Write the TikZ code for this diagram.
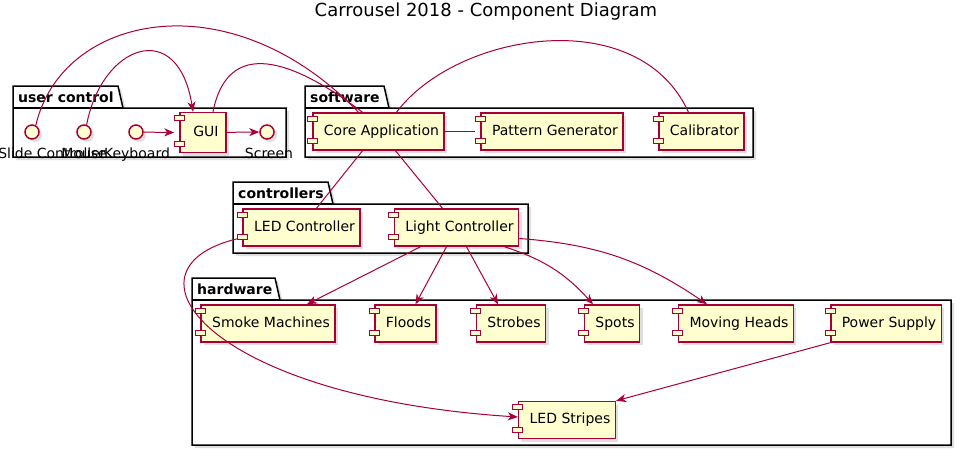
\documentclass[tikz,border=0pt]{standalone}
\usepackage{fontspec}
\setmainfont{DejaVu Sans}
\usepackage{xcolor}
\usetikzlibrary{arrows.meta, positioning, calc, shadows}
\definecolor{umlred}{HTML}{A80036}
\definecolor{umlfill}{HTML}{FEFECE}

\begin{document}
\begin{tikzpicture}[
    x=1pt, y=-1pt,
    font=\fontsize{14}{16}\selectfont,
    comp/.style={draw=umlred, line width=1.5pt, fill=umlfill, minimum height=37pt,
                 inner xsep=5pt, text height=10pt, text depth=3pt,
                 execute at begin node={\hspace*{6pt}},
                 drop shadow={shadow xshift=3pt, shadow yshift=-3pt, opacity=.25}},
    port/.style={draw=umlred, line width=1pt, fill=umlfill},
    iface/.style 2 args={circle, draw=umlred, line width=1.5pt, fill=umlfill, minimum size=14pt,
                  inner sep=0pt, drop shadow={shadow xshift=3pt, shadow yshift=-3pt, opacity=.25},
                  label={[label distance=5pt, xshift=#2]below:#1}},
    pkg/.style={draw, line width=1.5pt, fill=white,
                drop shadow={shadow xshift=3pt, shadow yshift=-3pt, opacity=.25}},
    pkglabel/.style={anchor=base west, inner sep=0pt, font=\fontsize{14}{16}\selectfont\bfseries},
    conn/.style={draw=umlred, line width=1pt},
    panah/.style={conn, -{Stealth[length=10pt, width=8pt, inset=3pt]}}
  ]
    \useasboundingbox (0,0) rectangle (972,456);
    \node[font=\fontsize{18}{20}\selectfont] (title) at (486,12) {Carrousel 2018 - Component Diagram};

    \foreach \l/\t/\tr/\r/\b/\txt/\nm in {13/86/123/286/157/user control/pkuser,
        305/86/389/753/157/software/pksoft, 233/182/333/528/253/controllers/pkctrl,
        192/278/280/951/445/hardware/pkhw} {
      \draw[pkg] (\l,\b) -- (\l,\t) -- (\tr-5,\t) -- (\tr,\t+22) -- (\r,\t+22) -- (\r,\b) -- cycle;
      \draw[line width=1.5pt] (\l,\t+22) -- (\tr,\t+22);
      \node[pkglabel] (\nm) at (\l+5,\t+16) {\txt};
    }

    \node[iface={Slide Controller}{20pt}] (slide) at (32,132) {};
    \node[iface={Mouse}{0pt}] (mouse) at (84,132) {};
    \node[iface={Keyboard}{1pt}] (keyb) at (136,132) {};
    \node[iface={Screen}{2pt}] (screen) at (267,132) {};

    \node[comp, minimum height=40pt, minimum width=46pt] (gui) at (203,132.5) {GUI};
    \node[comp] (core) at (378.5,131.5) {Core Application};
    \node[comp] (pat) at (552,131.5) {Pattern Generator};
    \node[comp] (cal) at (701.5,131.5) {Calibrator};
    \node[comp] (led) at (301.5,227.5) {LED Controller};
    \node[comp] (light) at (456.5,227.5) {Light Controller};
    \node[comp] (smoke) at (268,323.5) {Smoke Machines};
    \node[comp] (floods) at (405.5,323.5) {Floods};
    \node[comp] (strobes) at (511,323.5) {Strobes};
    \node[comp] (spots) at (612,323.5) {Spots};
    \node[comp] (moving) at (736,323.5) {Moving Heads};
    \node[comp] (power) at (886,323.5) {Power Supply};
    \node[comp] (stripes) at (567,420) {LED Stripes};

    \foreach \n in {gui,core,pat,cal,led,light,smoke,floods,strobes,spots,moving,power,stripes} {
      \draw[port] ([shift={(-5,4)}]\n.north west) rectangle ++(10,5);
      \draw[port] ([shift={(-5,-12)}]\n.south west) rectangle ++(10,5);
    }

    \draw[conn] (slide.60) .. controls +(25,-110) and +(-130,-135) .. ([xshift=-20pt]core.north);
    \draw[panah] (mouse.70) .. controls +(15,-80) and +(-15,-95) .. ([xshift=-10pt]gui.north);
    \draw[conn] ([xshift=10pt]gui.north) .. controls +(15,-75) and +(-70,-53) .. ([xshift=-16pt]core.north);
    \draw[panah] (keyb) -- ([xshift=-5pt]gui.west);
    \draw[panah] (gui) -- (screen);
    \draw[conn] (core) -- ([xshift=-5pt]pat.west);
    \draw[conn] ([xshift=18pt]core.north) .. controls +(60,-80) and +(-50,-110) .. ([xshift=-13pt]cal.north);
    \draw[conn] ([xshift=-16pt]core.south) -- ([xshift=15pt]led.north);
    \draw[conn] ([xshift=17pt]core.south) -- ([xshift=-14pt]light.north);

    \draw[panah] ([shift={(-5,-8)}]led.south west) .. controls +(-125,30) and +(-310,-20) .. ([yshift=3pt]stripes.west);
    \foreach \n/\a/\b in {smoke/-36/39, floods/-10/10, strobes/10/-13}
      \draw[panah] ([xshift=\a pt]light.south) -- ([xshift=\b pt]\n.north);
    \draw[panah] ([xshift=48pt]light.south) to[bend left=15] ([xshift=-19pt]spots.north);
    \draw[panah] ([shift={(0,11)}]light.east) to[bend left=15] ([xshift=-29pt]moving.north);
    \draw[panah] (power.south west) -- (stripes.north east);
  \end{tikzpicture}
\end{document}
